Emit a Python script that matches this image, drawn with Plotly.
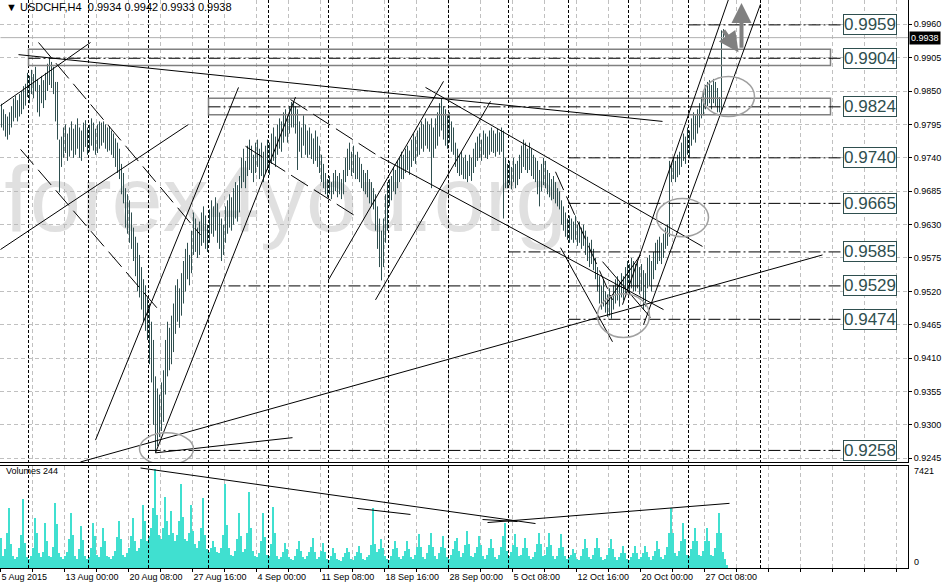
import plotly.graph_objects as go

# USDCHF H4, 5 Aug 2015 16:00 .. 29 Oct 2015, one value per bar (price x 10000)
bar_high = [
    9829, 9820, 9812, 9808, 9815, 9825, 9838, 9842, 9835, 9845,
    9850, 9858, 9862, 9880, 9875, 9885, 9878, 9890, 9870, 9860,
    9875, 9868, 9880, 9895, 9905, 9898, 9890, 9865, 9865, 9770,
    9775, 9790, 9795, 9780, 9790, 9800, 9788, 9795, 9805, 9790,
    9785, 9798, 9802, 9790, 9795, 9805, 9798, 9788, 9795, 9800,
    9798, 9800, 9795, 9790, 9792, 9785, 9780, 9772, 9765, 9755,
    9730, 9715, 9690, 9680, 9670, 9650, 9625, 9610, 9600, 9580,
    9560, 9540, 9530, 9510, 9500, 9470, 9440, 9380, 9360, 9350,
    9370, 9390, 9440, 9470, 9460, 9480, 9500, 9530, 9540, 9525,
    9550, 9570, 9590, 9600, 9580, 9620, 9650, 9640, 9625, 9635,
    9650, 9660, 9645, 9630, 9655, 9670, 9660, 9675, 9665, 9650,
    9640, 9630, 9660, 9670, 9680, 9675, 9690, 9700, 9695, 9710,
    9740, 9755, 9735, 9760, 9770, 9760, 9745, 9765, 9770, 9755,
    9765, 9750, 9760, 9770, 9765, 9780, 9790, 9775, 9795, 9805,
    9800, 9815, 9820, 9810, 9825, 9832, 9833, 9825, 9820, 9800,
    9790, 9810, 9795, 9785, 9790, 9780, 9772, 9785, 9775, 9760,
    9745, 9730, 9715, 9705, 9710, 9700, 9715, 9720, 9710, 9715,
    9705, 9720, 9740, 9755, 9765, 9750, 9760, 9745, 9750, 9740,
    9730, 9720, 9715, 9720, 9705, 9700, 9690, 9680, 9660, 9640,
    9620, 9640, 9680, 9700, 9705, 9710, 9725, 9720, 9735, 9740,
    9750, 9745, 9755, 9760, 9752, 9770, 9780, 9775, 9785, 9790,
    9800, 9795, 9805, 9800, 9795, 9805, 9790, 9805, 9815, 9830,
    9838, 9825, 9820, 9810, 9815, 9800, 9790, 9765, 9755, 9745,
    9750, 9740, 9745, 9735, 9745, 9740, 9755, 9765, 9775, 9780,
    9770, 9785, 9780, 9775, 9785, 9790, 9785, 9780, 9788, 9782,
    9790, 9785, 9740, 9730, 9735, 9725, 9740, 9730, 9735, 9745,
    9760, 9770, 9765, 9755, 9765, 9755, 9745, 9740, 9735, 9720,
    9730, 9740, 9735, 9720, 9715, 9705, 9710, 9700, 9690, 9685,
    9670, 9660, 9650, 9640, 9645, 9640, 9635, 9645, 9630, 9635,
    9625, 9630, 9620, 9610, 9600, 9605, 9590, 9575, 9560, 9545,
    9530, 9540, 9520, 9515, 9525, 9510, 9530, 9540, 9545, 9535,
    9550, 9545, 9560, 9570, 9565, 9575, 9570, 9565, 9570, 9560,
    9565, 9555, 9550, 9575, 9580, 9570, 9585, 9600, 9605, 9610,
    9600, 9615, 9625, 9630, 9735, 9730, 9740, 9735, 9745, 9750,
    9765, 9780, 9775, 9790, 9785, 9805, 9815, 9810, 9820, 9830,
    9840, 9850, 9860, 9865, 9868, 9860, 9870, 9865, 9855, 9840,
    9950, 9952, 9948, 9942,
]
bar_low = [
    9790, 9785, 9775, 9770, 9778, 9790, 9800, 9806, 9800, 9808,
    9812, 9820, 9826, 9840, 9830, 9845, 9838, 9850, 9815, 9808,
    9830, 9822, 9835, 9850, 9860, 9855, 9845, 9800, 9770, 9683,
    9725, 9740, 9748, 9735, 9742, 9752, 9740, 9745, 9755, 9740,
    9735, 9750, 9758, 9745, 9750, 9760, 9752, 9745, 9748, 9755,
    9760, 9765, 9755, 9750, 9752, 9745, 9740, 9725, 9715, 9705,
    9680, 9665, 9625, 9615, 9600, 9590, 9570, 9545, 9520, 9510,
    9490, 9470, 9455, 9440, 9400, 9370, 9300, 9255, 9265, 9280,
    9290, 9305, 9350, 9380, 9390, 9400, 9420, 9450, 9470, 9460,
    9480, 9500, 9520, 9540, 9530, 9550, 9580, 9585, 9575, 9580,
    9595, 9600, 9590, 9585, 9600, 9615, 9610, 9620, 9600, 9590,
    9570, 9580, 9600, 9615, 9625, 9620, 9630, 9640, 9635, 9650,
    9690, 9700, 9690, 9710, 9720, 9715, 9700, 9715, 9725, 9705,
    9710, 9700, 9715, 9720, 9712, 9730, 9735, 9725, 9745, 9755,
    9750, 9765, 9775, 9765, 9780, 9790, 9790, 9780, 9720, 9750,
    9740, 9760, 9745, 9740, 9745, 9738, 9730, 9735, 9725, 9715,
    9700, 9690, 9680, 9675, 9680, 9672, 9680, 9685, 9675, 9680,
    9672, 9680, 9700, 9710, 9720, 9710, 9715, 9705, 9705, 9700,
    9690, 9685, 9680, 9675, 9665, 9660, 9655, 9620, 9590, 9560,
    9538, 9560, 9600, 9620, 9660, 9670, 9685, 9680, 9690, 9700,
    9705, 9705, 9715, 9720, 9712, 9725, 9735, 9730, 9742, 9745,
    9755, 9750, 9760, 9755, 9750, 9690, 9740, 9755, 9760, 9775,
    9785, 9770, 9760, 9755, 9765, 9750, 9745, 9725, 9715, 9710,
    9712, 9705, 9705, 9700, 9710, 9702, 9715, 9725, 9735, 9740,
    9735, 9745, 9740, 9738, 9745, 9750, 9748, 9742, 9750, 9745,
    9750, 9640, 9690, 9690, 9695, 9688, 9700, 9690, 9695, 9705,
    9715, 9725, 9720, 9715, 9720, 9710, 9705, 9700, 9680, 9660,
    9685, 9695, 9690, 9680, 9675, 9670, 9672, 9665, 9660, 9655,
    9630, 9620, 9610, 9605, 9600, 9605, 9600, 9605, 9595, 9600,
    9590, 9595, 9580, 9570, 9560, 9565, 9555, 9540, 9520, 9500,
    9490, 9495, 9485, 9478, 9480, 9475, 9490, 9500, 9505, 9495,
    9510, 9505, 9515, 9520, 9515, 9525, 9520, 9520, 9525, 9515,
    9520, 9490, 9495, 9525, 9530, 9520, 9540, 9555, 9565, 9570,
    9565, 9575, 9590, 9595, 9610, 9700, 9705, 9700, 9708, 9712,
    9725, 9735, 9730, 9745, 9740, 9760, 9770, 9765, 9780, 9790,
    9805, 9810, 9820, 9825, 9830, 9820, 9830, 9825, 9815, 9815,
    9818, 9930, 9932, 9933,
]
volumes = [
    2270, 900, 1400, 2600, 4470, 1800, 900, 700, 800, 1500, 2500, 5150,
    1900, 800, 700, 900, 1500, 3780, 2600, 1100, 800, 1200, 3400, 2000,
    900, 800, 1600, 4900, 3300, 1100, 800, 700, 900, 1200, 2200, 4160,
    2500, 900, 700, 1400, 3180, 2100, 900, 700, 800, 1500, 3400, 2400,
    1000, 800, 1600, 3030, 2000, 900, 800, 700, 900, 1300, 2300, 3560,
    2200, 1000, 800, 1100, 1500, 2400, 3780, 2000, 1300, 1500, 2200, 4690,
    3500, 2000, 2400, 3000, 4500, 7421, 4000, 2500, 2200, 3000, 5300, 3500,
    2500, 4300, 2600, 2000, 2500, 3500, 6280, 3800, 2200, 2000, 2600, 4690,
    2800, 1800, 1500, 2000, 3000, 5220, 2500, 1400, 1200, 1500, 2040, 1600,
    1200, 1100, 1500, 2500, 6280, 3200, 1500, 1000, 900, 1300, 2200, 4090,
    2400, 1200, 1400, 2600, 5680, 3000, 1300, 900, 800, 1100, 2000, 4160,
    2300, 1000, 900, 1800, 4540, 2600, 900, 700, 800, 1200, 1890, 1400,
    800, 700, 600, 900, 1400, 2040, 1300, 800, 700, 900, 1200, 1600,
    2270, 1200, 700, 800, 1300, 1890, 1200, 700, 600, 900, 1510, 1100,
    700, 600, 500, 800, 1100, 1510, 1200, 700, 600, 900, 1200, 1660,
    1100, 700, 600, 800, 1000, 1700, 4470, 1800, 1200, 1400, 2190, 1500,
    900, 700, 600, 900, 1400, 2040, 1500, 800, 700, 900, 1300, 2040,
    1400, 800, 700, 1000, 1600, 2570, 1600, 800, 700, 1100, 1700, 2650,
    1600, 900, 700, 1100, 1600, 2420, 1500, 800, 700, 1000, 1400, 2000,
    2270, 1300, 800, 1100, 1700, 2800, 1800, 900, 800, 1100, 1600, 2420,
    1700, 900, 700, 1000, 1500, 2190, 1500, 800, 700, 1000, 1600, 2400,
    3400, 1300, 900, 1200, 1700, 2570, 1600, 900, 1000, 1500, 2270, 1500,
    900, 700, 800, 1200, 1800, 2650, 1800, 900, 1000, 1600, 2650, 1700,
    900, 700, 900, 1500, 2570, 1600, 900, 700, 800, 1000, 1440, 1100,
    700, 600, 900, 1400, 2190, 1500, 800, 700, 1000, 1500, 2270, 1500,
    800, 600, 700, 1000, 1500, 2190, 1400, 800, 600, 800, 1100, 1660,
    1100, 700, 600, 800, 1100, 1660, 1100, 700, 800, 1100, 1660, 1200,
    800, 600, 900, 1300, 2040, 1400, 800, 700, 1000, 1600, 2600, 4470,
    2600, 1100, 900, 1300, 2000, 3400, 2200, 1000, 900, 1400, 2000, 3030,
    2000, 1000, 900, 1300, 2000, 3030, 2000, 1000, 900, 1500, 2600, 4160,
    2600, 1200, 700, 244,
]
date_labels = ["5 Aug 2015", "13 Aug 00:00", "20 Aug 08:00", "27 Aug 16:00",
               "4 Sep 00:00", "11 Sep 08:00", "18 Sep 16:00", "28 Sep 00:00",
               "5 Oct 08:00", "12 Oct 16:00", "20 Oct 00:00", "27 Oct 08:00"]
price_ticks = [0.9960, 0.9905, 0.9850, 0.9795, 0.9740, 0.9685, 0.9630,
               0.9575, 0.9520, 0.9465, 0.9410, 0.9355, 0.9300, 0.9245]
week_starts = [13.5, 43.5, 73.5, 103.5, 133.5, 163.5, 193.5, 223.5,
               253.5, 283.5, 313.5, 343.5, 379.5]

# support / resistance levels and the bar where each line starts
levels = [0.9959, 0.9904, 0.9824, 0.9740, 0.9665, 0.9585, 0.9529, 0.9474, 0.9258]
level_start = [343.5, 13.5, 103.5, 283.5, 283.5, 253.5, 103.5, 283.5, 73.5]
zones = [(13.5, 414.5, 0.9892, 0.9919), (103.5, 414.5, 0.9811, 0.9838)]
last_price = 0.9938

# trend lines: bar0, price0, bar1, price1, dashed
trend_lines = [
    (8.5, 0.9910, 330.5, 0.9800, False),
    (-0.5, 0.9826, 44.5, 0.9930, False),
    (-0.5, 0.9589, 93.5, 0.9795, False),
    (18.5, 0.9930, 99.5, 0.9613, True),
    (9.5, 0.9754, 79.5, 0.9486, True),
    (47, 0.9275, 118.5, 0.9856, False),
    (77, 0.9254, 147, 0.9840, False),
    (39.5, 0.9239, 410.5, 0.9580, False),
    (77, 0.9254, 145.5, 0.9279, False),
    (122, 0.9759, 178, 0.9642, True),
    (144.5, 0.9836, 187, 0.9746, True),
    (163.5, 0.9539, 221, 0.9866, False),
    (187, 0.9506, 244.5, 0.9833, False),
    (212, 0.9856, 350.5, 0.9594, False),
    (189.5, 0.9741, 331, 0.9490, False),
    (310.5, 0.9498, 363.5, 1.0001, False),
    (321, 0.9465, 379.5, 0.9993, False),
    (277, 0.9717, 305.5, 0.9506, True),
    (279.5, 0.9592, 305.5, 0.9437, False),
    (300.5, 0.9569, 324.5, 0.9477, False),
    (302, 0.9498, 319.5, 0.9580, False),
]
# ellipses marking key areas: bar0, bar1, price_low, price_high
circles = [(69, 96, 0.9234, 0.9287), (298, 324, 0.9444, 0.9516),
           (327.5, 353.5, 0.9610, 0.9673), (350.5, 376.5, 0.9808, 0.9874)]
volume_lines = [(69.5, 7495, 267, 3331), (243, 3407, 364, 4845),
                (178, 4466, 204.5, 4012), (240.5, 3634, 258, 3482)]

CANDLE = "#2F4F4F"
GRID = "#C0C0C0"
FONT = "Liberation Sans"

bars = list(range(len(bar_high)))
cx, cy = [], []
for i in bars:
    cx += [i, i, None]
    cy += [bar_low[i] / 10000, bar_high[i] / 10000, None]

fig = go.Figure()
fig.add_trace(go.Scatter(x=[142], y=[0.9658], mode="text", text=["forex4you.org"],
                         textfont=dict(family=FONT, size=92, color="rgba(180,180,180,0.42)"),
                         xaxis="x", yaxis="y", hoverinfo="skip"))
fig.add_trace(go.Scatter(x=cx, y=cy, mode="lines", line=dict(color=CANDLE, width=1),
                         xaxis="x", yaxis="y", hoverinfo="skip"))
fig.add_trace(go.Bar(x=bars, y=volumes, width=0.75, marker=dict(color="#40E0D0", line_width=0),
                     xaxis="x2", yaxis="y2", hoverinfo="skip"))

shapes = []
for b in week_starts:
    shapes.append(dict(type="line", xref="x", yref="paper", x0=b, x1=b, y0=0, y1=1,
                       line=dict(color="black", width=1, dash="3px,2px")))
shapes.append(dict(type="line", xref="x", yref="y", x0=-0.5, x1=453.5, y0=last_price, y1=last_price,
                   line=dict(color="#B0B0B0", width=1)))
for x0, x1, lo, hi in zones:
    shapes.append(dict(type="rect", xref="x", yref="y", x0=x0, x1=x1, y0=lo, y1=hi,
                       line=dict(color="#808080", width=1.5)))
for lv, st in zip(levels, level_start):
    shapes.append(dict(type="line", xref="x", yref="y", x0=st, x1=421, y0=lv, y1=lv,
                       line=dict(color="black", width=1, dash="12px,3px,2px,3px")))
for x0, y0, x1, y1, dashed in trend_lines:
    shapes.append(dict(type="line", xref="x", yref="y", x0=x0, y0=y0, x1=x1, y1=y1,
                       line=dict(color="black", width=1, dash="20px,7px" if dashed else "solid")))
for x0, x1, lo, hi in circles:
    shapes.append(dict(type="circle", xref="x", yref="y", x0=x0, x1=x1, y0=lo, y1=hi,
                       line=dict(color="#A0A0A0", width=1.5)))
for x0, y0, x1, y1 in volume_lines:
    shapes.append(dict(type="line", xref="x2", yref="y2", x0=x0, y0=y0, x1=x1, y1=y1,
                       line=dict(color="black", width=1)))

annotations = [
    dict(text="▼ USDCHF,H4  0.9934 0.9942 0.9933 0.9938", xref="paper", yref="paper",
         x=0.004, y=0.988, xanchor="left", yanchor="middle", showarrow=False,
         font=dict(family=FONT, size=11, color="black")),
    dict(text="Volumes 244", xref="paper", yref="paper", x=0.004, y=0.171,
         xanchor="left", yanchor="middle", showarrow=False,
         font=dict(family=FONT, size=9, color="black")),
    dict(text="7421", xref="paper", yref="y2", x=1, y=7275, xanchor="left", xshift=4,
         showarrow=False, font=dict(family=FONT, size=9, color="black")),
    dict(text="0", xref="paper", yref="y2", x=1, y=450, xanchor="left", xshift=4,
         showarrow=False, font=dict(family=FONT, size=9, color="black")),
    dict(text=f"{last_price:.4f}", xref="paper", yref="y", x=1, y=last_price, xanchor="left",
         xshift=1, showarrow=False, bgcolor="black", borderpad=1,
         font=dict(family=FONT, size=9, color="white")),
    dict(x=370, y=0.9995, ax=370, ay=0.9919, xref="x", yref="y", axref="x", ayref="y",
         showarrow=True, arrowhead=2, arrowsize=1, arrowwidth=4, arrowcolor="#808080", text=""),
    dict(x=368.5, y=0.9914, ax=360.5, ay=0.9952, xref="x", yref="y", axref="x", ayref="y",
         showarrow=True, arrowhead=2, arrowsize=1, arrowwidth=4, arrowcolor="#808080", text=""),
]
for lv in levels:
    annotations.append(dict(text=f"{lv:.4f}", xref="x", yref="y", x=434, y=lv,
                            xanchor="center", yanchor="middle", showarrow=False,
                            bgcolor="white", bordercolor=CANDLE, borderwidth=1, borderpad=0,
                            font=dict(family=FONT, size=17, color=CANDLE)))

grid_vals = [-0.5 + 16 * k for k in range(29)]
grid_text = [date_labels[k // 2] if k % 2 == 0 and k // 2 < len(date_labels) else "" for k in range(29)]

fig.update_layout(
    width=944, height=587, autosize=False, template="none",
    margin=dict(l=0, r=36, t=0, b=19),
    paper_bgcolor="white", plot_bgcolor="white",
    showlegend=False, hovermode=False, bargap=0,
    font=dict(family=FONT, size=9, color="black"),
    xaxis=dict(domain=[0, 1], range=[-0.75, 453.25], anchor="y", tickvals=grid_vals,
               showticklabels=False, ticks="", showgrid=True, gridcolor=GRID,
               griddash="4px,3px", gridwidth=1, zeroline=False, showline=True,
               linecolor="black", linewidth=1, automargin=False),
    yaxis=dict(domain=[0.1866, 1], range=[0.92389, 1.0], side="right", anchor="x",
               tickvals=price_ticks, tickformat=".4f", ticks="outside", ticklen=3,
               tickcolor="black", showgrid=True, gridcolor=GRID, griddash="4px,3px",
               zeroline=False, showline=True, linecolor="black", linewidth=1,
               automargin=False, tickfont=dict(family=FONT, size=9)),
    xaxis2=dict(domain=[0, 1], matches="x", anchor="y2", tickvals=grid_vals,
                ticktext=grid_text, ticklabelposition="outside right", ticks="outside",
                ticklen=3, tickcolor="black", showgrid=True, gridcolor=GRID,
                griddash="4px,3px", zeroline=False, showline=True, mirror=True,
                linecolor="black", linewidth=1, automargin=False,
                tickfont=dict(family=FONT, size=9)),
    yaxis2=dict(domain=[0, 0.1796], range=[0, 7646], side="right", anchor="x2",
                showticklabels=False, ticks="", showgrid=False, zeroline=False,
                showline=True, linecolor="black", linewidth=1, automargin=False),
    shapes=shapes,
    annotations=annotations,
)

fig.write_html("out.html", config={"displayModeBar": False},
               post_script="document.body.style.margin='0';")
